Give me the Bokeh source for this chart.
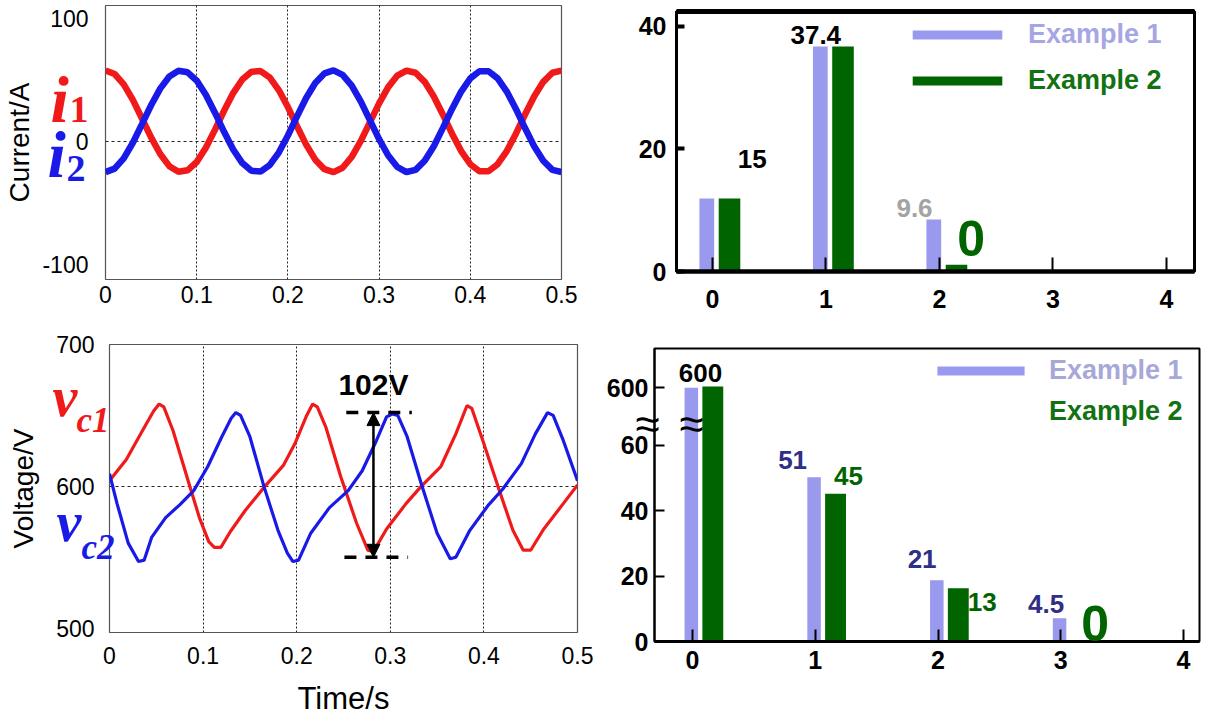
from bokeh.plotting import figure
from bokeh.models import (Range1d, FixedTicker, Label, Arrow, NormalHead, Legend,
                          LegendItem, LinearAxis, ColumnDataSource, GridBox)
from bokeh.transform import dodge
from bokeh.embed import file_html
from bokeh.resources import INLINE

# ---------------- data: arm currents (top-left) ----------------
t_current = [0.00, 0.01, 0.02, 0.03, 0.04, 0.05, 0.06, 0.07, 0.08, 0.09,
             0.10, 0.11, 0.12, 0.13, 0.14, 0.15, 0.16, 0.17, 0.18, 0.19,
             0.20, 0.21, 0.22, 0.23, 0.24, 0.25, 0.26, 0.27, 0.28, 0.29,
             0.30, 0.31, 0.32, 0.33, 0.34, 0.35, 0.36, 0.37, 0.38, 0.39,
             0.40, 0.41, 0.42, 0.43, 0.44, 0.45, 0.46, 0.47, 0.48, 0.49, 0.50]
i1_current = [58.0, 55.1, 46.7, 34.0, 18.8, 3.4, -10.2, -20.1, -24.7, -23.5,
              -16.7, -5.1, 9.5, 25.1, 39.5, 50.6, 56.9, 57.5, 52.3, 42.0,
              28.1, 12.5, -2.5, -14.8, -22.6, -25.0, -21.4, -12.6, 0.5, 15.8,
              31.1, 44.4, 53.8, 57.9, 56.1, 48.7, 36.8, 21.9, 6.4, -7.8,
              -18.5, -24.3, -24.3, -18.5, -7.8, 6.4, 22.0, 36.8, 48.7, 56.1, 57.9]
i2_current = [-25.0, -22.1, -13.7, -1.0, 14.2, 29.6, 43.2, 53.1, 57.7, 56.5,
              49.7, 38.1, 23.5, 7.9, -6.5, -17.6, -23.9, -24.5, -19.3, -9.0,
              4.9, 20.5, 35.5, 47.8, 55.6, 58.0, 54.4, 45.6, 32.5, 17.2,
              1.9, -11.4, -20.8, -24.9, -23.1, -15.7, -3.8, 11.1, 26.6, 40.8,
              51.5, 57.3, 57.3, 51.5, 40.8, 26.6, 11.0, -3.8, -15.7, -23.1, -24.9]
current_ticks_x = [0, 0.1, 0.2, 0.3, 0.4, 0.5]
current_ticks_y = [-100, 0, 100]

# ---------------- data: capacitor voltages (bottom-left) ----------------
t_vc1 = [0.000, 0.018, 0.035, 0.047, 0.053, 0.058, 0.068, 0.084, 0.096, 0.106,
         0.112, 0.119, 0.129, 0.145, 0.166, 0.186, 0.198, 0.210, 0.217, 0.222,
         0.231, 0.247, 0.264, 0.276, 0.282, 0.296, 0.317, 0.333, 0.354, 0.370,
         0.382, 0.387, 0.399, 0.415, 0.431, 0.442, 0.450, 0.464, 0.485, 0.500]
vc1 = [604, 619, 639, 653, 658, 656, 639, 604, 578, 561,
       557, 557, 568, 583, 600, 615, 630, 649, 658, 656,
       642, 607, 574, 555, 554, 570, 588, 600, 614, 637,
       657, 655, 632, 600, 569, 555, 555, 570, 588, 601]
t_vc2 = [0.000, 0.008, 0.020, 0.031, 0.037, 0.045, 0.060, 0.075, 0.090, 0.105,
         0.120, 0.130, 0.135, 0.140, 0.150, 0.165, 0.180, 0.190, 0.196, 0.202,
         0.215, 0.235, 0.255, 0.270, 0.285, 0.296, 0.302, 0.308, 0.318, 0.333,
         0.350, 0.364, 0.370, 0.385, 0.405, 0.420, 0.440, 0.455, 0.468, 0.474,
         0.485, 0.500]
vc2 = [609, 588, 560, 547, 548, 564, 578, 587, 597, 614,
       635, 648, 652, 650, 635, 600, 569, 553, 547, 548,
       567, 585, 597, 611, 632, 649, 651, 650, 635, 602,
       567, 549, 550, 569, 587, 598, 616, 637, 652, 650,
       632, 604]
voltage_ticks_y = [500, 600, 700]
ripple_text = "102V"
ripple_top = 652
ripple_bottom = 550
ripple_time = 0.282
ripple_marker_t0 = [0.253, 0.251]
ripple_marker_t1 = [0.323, 0.319]

# ---------------- data: harmonic spectra (right) ----------------
harmonics = [0, 1, 2, 3, 4]
# top-right: bar heights as drawn
cur_ex1 = [11.9, 36.7, 8.5, 0, 0]
cur_ex2 = [11.9, 36.7, 1.1, 0, 0]
cur_value_text = ["15", "37.4", "9.6", "0"]
cur_ticks_y = [0, 20, 40]
# bottom-right: bar heights as drawn on the broken axis (600 shown above the break)
volt_ex1 = [77.6, 50.2, 18.7, 7.1, 0]
volt_ex2 = [78.0, 45.2, 16.3, 0, 0]
volt_value_text = ["600", "51", "45", "21", "13", "4.5", "0"]
volt_ticks_y = [0, 20, 40, 60, 77.6]
volt_tick_names = {77.6: "600"}
series_names = ["Example 1", "Example 2"]

# ---------------- styles ----------------
RED = "#f01a1a"
BLUE = "#1a1ae8"
LAV = "#9999ee"
DKGREEN = "#006400"
NAVY = "#2f2f85"
SANS = "Liberation Sans"
SERIF = "Liberation Serif"

# figure geometry: (width, height, border left, right, top, bottom)
G1 = (600, 330, 105, 39, 5, 51)
G3 = (600, 397, 109, 23, 14, 95)
G2 = (611, 330, 76, 17, 11, 59)
G4 = (611, 397, 54, 12, 18, 86)


def make_fig(g, xr, yr):
    w, h, bl, br, bt, bb = g
    return figure(width=w, height=h, x_range=Range1d(*xr), y_range=Range1d(*yr),
                  output_backend="svg", toolbar_location=None, frame_align=False,
                  min_border_left=bl, min_border_right=br, min_border_top=bt,
                  min_border_bottom=bb)


def make_overlay(g, xr, yr):
    """transparent full-size twin of a panel, sharing its data coordinates,
    so that annotation texts in the panel margins are not clipped"""
    w, h, bl, br, bt, bb = g
    sx = (xr[1] - xr[0]) / (w - bl - br)
    sy = (yr[1] - yr[0]) / (h - bt - bb)
    f = figure(width=w, height=h,
               x_range=Range1d(xr[0] - bl * sx, xr[1] + br * sx),
               y_range=Range1d(yr[0] - bb * sy, yr[1] + bt * sy),
               x_axis_type=None, y_axis_type=None, output_backend="svg",
               toolbar_location=None, frame_align=False, min_border=0,
               min_border_left=0, min_border_right=0, min_border_top=0, min_border_bottom=0)
    f.outline_line_color = None
    f.background_fill_color = None
    f.border_fill_color = None
    return f


def style_scope(p):
    p.outline_line_color = "#555555"
    p.outline_line_width = 1.2
    p.axis.axis_line_color = None
    p.axis.major_tick_line_color = None
    p.axis.minor_tick_line_color = None
    p.axis.major_tick_out = 0
    p.axis.major_tick_in = 0
    p.axis.minor_tick_out = 0
    p.axis.minor_tick_in = 0
    p.axis.major_label_text_font = SANS
    p.axis.major_label_text_font_size = "23px"
    p.axis.major_label_text_color = "black"
    p.axis.axis_label_text_font = SANS
    p.axis.axis_label_text_font_style = "normal"
    p.axis.axis_label_text_color = "black"
    p.xgrid.grid_line_color = "#222222"
    p.xgrid.grid_line_dash = "2 2"
    p.xgrid.grid_line_width = 1
    p.ygrid.grid_line_color = "#222222"
    p.ygrid.grid_line_dash = "3 3"
    p.ygrid.grid_line_width = 1
    p.background_fill_color = "white"
    p.border_fill_color = "white"


def sym(f, x, y, dx, text, color, size_px, style="bold italic", font=SERIF):
    # baseline placed at (x, y); small upward pixel correction for the text box
    f.add_layout(Label(x=x, y=y, x_offset=dx, y_offset=round(0.37 * size_px), text=text,
                       text_color=color, text_font=font, text_font_style=style,
                       text_font_size=f"{size_px}px", text_baseline="alphabetic",
                       text_align="left"))


# ================= panel 1: currents =================
XR1, YR1 = (0, 0.5), (-112.6, 111)
p1 = make_fig(G1, XR1, YR1)
style_scope(p1)
p1.line(t_current, i1_current, line_width=6.5, color=RED)
p1.line(t_current, i2_current, line_width=6.5, color=BLUE)
p1.xaxis.ticker = FixedTicker(ticks=current_ticks_x)
p1.yaxis.ticker = FixedTicker(ticks=current_ticks_y)
p1.xaxis.major_label_overrides = {0: "0"}
p1.yaxis.major_label_overrides = {-100: "-100"}
p1.xgrid.ticker = FixedTicker(ticks=current_ticks_x[1:-1])
p1.ygrid.ticker = FixedTicker(ticks=[0])
p1.xaxis.major_label_standoff = 6
p1.yaxis.major_label_standoff = 17
p1.yaxis.axis_label = "Current/A"
p1.yaxis.axis_label_text_font_size = "28px"
p1.yaxis.axis_label_standoff = 4
ov1 = make_overlay(G1, XR1, YR1)
sym(ov1, 0, 14.7, -55, "i", RED, 66)
sym(ov1, 0, 14.7, -36, "1", RED, 38, style="bold")
sym(ov1, 0, -30.2, -58, "i", BLUE, 66)
sym(ov1, 0, -33.5, -39, "2", BLUE, 38, style="bold")

# ================= panel 3: voltages =================
XR3, YR3 = (0, 0.5), (497, 700)
p3 = make_fig(G3, XR3, YR3)
style_scope(p3)
p3.line(t_vc1, vc1, line_width=3.2, color=RED)
p3.line(t_vc2, vc2, line_width=3.2, color=BLUE)
p3.xaxis.ticker = FixedTicker(ticks=current_ticks_x)
p3.yaxis.ticker = FixedTicker(ticks=voltage_ticks_y)
p3.xaxis.major_label_overrides = {0: "0"}
p3.xgrid.ticker = FixedTicker(ticks=current_ticks_x[1:-1])
p3.ygrid.ticker = FixedTicker(ticks=[600])
p3.xaxis.major_label_standoff = 14
p3.yaxis.major_label_standoff = 15
p3.yaxis.axis_label = "Voltage/V"
p3.yaxis.axis_label_text_font_size = "28px"
p3.yaxis.axis_label_standoff = 14
p3.xaxis.axis_label = "Time/s"
p3.xaxis.axis_label_text_font_size = "31px"
p3.xaxis.axis_label_standoff = 14
p3.segment(x0=ripple_marker_t0, y0=[ripple_top, ripple_bottom],
           x1=ripple_marker_t1, y1=[ripple_top, ripple_bottom],
           line_color="black", line_width=3.5, line_dash="12 9")
p3.add_layout(Arrow(x_start=ripple_time, y_start=ripple_bottom, x_end=ripple_time, y_end=ripple_top,
                    line_width=2.5, line_color="black",
                    start=NormalHead(size=13, fill_color="black", line_color="black"),
                    end=NormalHead(size=13, fill_color="black", line_color="black")))
p3.add_layout(Label(x=ripple_time, y=ripple_top, y_offset=28, text=ripple_text, text_align="center",
                    text_baseline="middle", text_font=SANS, text_font_style="bold",
                    text_font_size="30px", text_color="black"))
ov3 = make_overlay(G3, XR3, YR3)
sym(ov3, 0, 648, -57, "v", RED, 56)
sym(ov3, 0, 637.5, -33, "c1", RED, 35)
sym(ov3, 0, 560, -53, "v", BLUE, 56)
sym(ov3, 0, 548, -28, "c2", BLUE, 35)


def style_bars(p):
    p.grid.visible = False
    p.outline_line_color = "black"
    p.axis.major_label_text_font = SANS
    p.axis.major_label_text_font_style = "bold"
    p.axis.major_label_text_font_size = "25px"
    p.axis.major_label_text_color = "black"
    p.axis.minor_tick_line_color = None
    p.axis.minor_tick_out = 0
    p.axis.axis_line_color = "black"
    p.xaxis.major_tick_out = 0
    p.yaxis.major_tick_out = 0
    p.background_fill_color = "white"
    p.border_fill_color = "white"


def value_labels(p, xs, ys, texts, colors, sizes):
    for x, y, t, c, s in zip(xs, ys, texts, colors, sizes):
        p.add_layout(Label(x=x, y=y, text=t, text_color=c, text_align="center",
                           text_baseline="middle", text_font=SANS, text_font_style="bold",
                           text_font_size=s))


def legend_item(p, renderer, name, color, loc, standoff, gw):
    p.add_layout(Legend(items=[LegendItem(label=name, renderers=[renderer])], location=loc,
                        glyph_width=gw, glyph_height=11, label_standoff=standoff,
                        padding=0, margin=0, spacing=0, border_line_color=None,
                        background_fill_alpha=0, label_text_font=SANS,
                        label_text_font_style="bold", label_text_font_size="27px",
                        label_text_color=color))


# ================= panel 2: current spectrum =================
src2 = ColumnDataSource(dict(h=harmonics, e1=cur_ex1, e2=cur_ex2))
p2 = make_fig(G2, (-0.317, 4.247), (0, 42.4))
style_bars(p2)
r21 = p2.vbar(x=dodge("h", -0.05, range=p2.x_range), top="e1", width=0.13, source=src2,
              fill_color=LAV, line_color=None)
r22 = p2.vbar(x=dodge("h", 0.15, range=p2.x_range), top="e2", width=0.19, source=src2,
              fill_color=DKGREEN, line_color=None)
p2.outline_line_width = 3
p2.xaxis.ticker = FixedTicker(ticks=harmonics)
p2.yaxis.ticker = FixedTicker(ticks=cur_ticks_y)
p2.xaxis.axis_line_width = 4.5
p2.yaxis.axis_line_width = 3
p2.xaxis.major_tick_in = 14
p2.xaxis.major_tick_line_width = 2
p2.yaxis.major_tick_in = 8
p2.yaxis.major_tick_line_width = 4
p2.xaxis.major_label_standoff = 18
p2.yaxis.major_label_standoff = 10
top_axis = LinearAxis(ticker=FixedTicker(ticks=[]), axis_line_width=5, axis_line_color="black",
                      major_label_text_font_size="0px", major_tick_line_color=None,
                      major_tick_out=0, minor_tick_out=0, minor_tick_line_color=None)
p2.add_layout(top_axis, "above")
value_labels(p2, [0.35, 0.91, 1.78, 2.28], [18.3, 38.6, 10.3, 5.4], cur_value_text,
             ["black", "black", "#a3a3a3", DKGREEN], ["26px", "26px", "26px", "50px"])
legend_item(p2, r21, series_names[0], "#a6a6e4", (225, 221), 15, 112)
legend_item(p2, r22, series_names[1], "#127212", (225, 175), 15, 112)

# ================= panel 4: voltage spectrum =================
XR4, YR4 = (-0.31, 4.13), (0, 89.6)
src4 = ColumnDataSource(dict(h=harmonics, e1=volt_ex1, e2=volt_ex2))
p4 = make_fig(G4, XR4, YR4)
style_bars(p4)
r41 = p4.vbar(x=dodge("h", -0.01, range=p4.x_range), top="e1", width=0.11, source=src4,
              fill_color=LAV, line_color=None)
r42 = p4.vbar(x=dodge("h", 0.165, range=p4.x_range), top="e2", width=0.17, source=src4,
              fill_color=DKGREEN, line_color=None)
r4leg = p4.vbar(x=[], top=[], width=0.1, fill_color="#2e8b57", line_color=None)
p4.outline_line_width = 2
p4.xaxis.ticker = FixedTicker(ticks=harmonics)
p4.yaxis.ticker = FixedTicker(ticks=volt_ticks_y)
p4.yaxis.major_label_overrides = volt_tick_names
p4.xaxis.axis_line_width = 3
p4.yaxis.axis_line_width = 2
p4.xaxis.major_tick_in = 12
p4.xaxis.major_tick_line_width = 2
p4.yaxis.major_tick_in = 10
p4.yaxis.major_tick_line_width = 2
p4.xaxis.major_label_standoff = 9
p4.yaxis.major_label_standoff = 6
value_labels(p4, [0.065, 0.815, 1.27, 1.87, 2.36, 2.88, 3.28],
             [82, 55.4, 50.5, 25.1, 12.2, 11.6, 5.5], volt_value_text,
             ["black", NAVY, DKGREEN, NAVY, DKGREEN, NAVY, DKGREEN],
             ["26px", "26px", "26px", "26px", "26px", "26px", "50px"])
legend_item(p4, r41, series_names[0], "#a8a8d8", (272, 255), 14, 109)
legend_item(p4, r4leg, series_names[1], "#127212", (272, 214), 14, 109)
ov4 = make_overlay(G4, XR4, YR4)
for bx in [-0.367, -0.008]:
    ov4.add_layout(Label(x=bx, y=66.7, text="\u2248", text_align="center", text_baseline="middle",
                         text_font=SANS, text_font_size="44px", text_color="black"))

layout = GridBox(children=[(p1, 0, 0), (p2, 0, 1), (p3, 1, 0), (p4, 1, 1),
                           (ov1, 0, 0), (ov3, 1, 0), (ov4, 1, 1)], spacing=0)
open("out.html", "w").write(file_html(layout, INLINE))
